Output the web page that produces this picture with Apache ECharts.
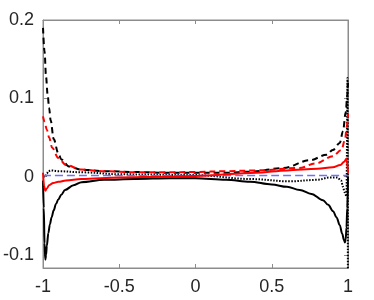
<!DOCTYPE html>
<html><head><meta charset="utf-8">
<script src="https://cdn.jsdelivr.net/npm/echarts@6/dist/echarts.min.js"></script>
<style>html,body{margin:0;padding:0;background:#fff}#c{width:374px;height:300px}</style>
</head><body><div id="c"></div>
<script>
// tick labels
const xTicks = [-1, -0.5, 0, 0.5, 1];
const yTicks = [-0.1, 0, 0.1, 0.2];

// black solid
const bsX = [-1, -0.995, -0.99, -0.985, -0.98, -0.975, -0.965, -0.955, -0.944, -0.93, -0.915, -0.9, -0.88, -0.856, -0.8, -0.747, -0.6, -0.4, -0.167, 0, 0.2, 0.357, 0.5, 0.6, 0.684, 0.76, 0.836, 0.87, 0.902, 0.925, 0.946, 0.962, 0.974, 0.98, 0.985, 0.99, 0.995, 1];
const bsY = [-0.005, -0.04, -0.085, -0.106, -0.1, -0.088, -0.072, -0.061, -0.052, -0.043, -0.035, -0.029, -0.023, -0.017, -0.011, -0.007, -0.004, -0.003, -0.002, -0.002, -0.004, -0.0064, -0.01, -0.013, -0.017, -0.022, -0.03, -0.036, -0.044, -0.052, -0.062, -0.073, -0.081, -0.084, -0.08, -0.065, -0.04, 0];

// black dashed
const bdX = [-1, -0.99, -0.98, -0.97, -0.96, -0.95, -0.93, -0.9, -0.88, -0.83, -0.75, -0.6, -0.4, -0.2, 0, 0.2, 0.36, 0.575, 0.75, 0.86, 0.9, 0.946, 0.967, 0.985, 0.995, 1];
const bdY = [0.19, 0.16, 0.127, 0.105, 0.088, 0.072, 0.048, 0.03, 0.022, 0.013, 0.009, 0.007, 0.006, 0.005, 0.005, 0.005, 0.0064, 0.011, 0.021, 0.028, 0.034, 0.043, 0.058, 0.082, 0.103, 0.12];

// black dotted
const dtX = [-1, -0.985, -0.975, -0.965, -0.947, -0.9, -0.735, -0.5, 0, 0.357, 0.62, 0.8, 0.88, 0.93, 0.955, 0.967, 0.978, 0.99, 0.997, 1];
const dtY = [0, 0, 0.004, 0.007, 0.008, 0.007, 0.0055, 0.003, 0.002, -0.003, -0.006, -0.004, -0.001, -0.001, -0.005, -0.013, -0.02, -0.025, 0.126, -0.25];

// blue dashed
const blX = [-1, 1];
const blY = [0.0015, 0.0015];

// red solid
const rsX = [-1, -0.993, -0.985, -0.975, -0.96, -0.933, -0.9, -0.85, -0.75, -0.5, -0.2, 0, 0.4, 0.6, 0.8, 0.9, 0.95, 0.975, 0.99, 1];
const rsY = [0.005, -0.012, -0.018, -0.015, -0.011, -0.008, -0.0065, -0.005, -0.003, -0.001, 0, 0.001, 0.005, 0.008, 0.01, 0.012, 0.015, 0.019, 0.023, 0.005];

// red dashed
const rdX = [-1, -0.99, -0.975, -0.96, -0.94, -0.9, -0.85, -0.75, -0.6, -0.4, -0.2, 0, 0.2, 0.4, 0.68, 0.79, 0.9, 0.957, 0.98, 0.993, 1];
const rdY = [0.077, 0.07, 0.06, 0.05, 0.037, 0.024, 0.015, 0.009, 0.007, 0.0055, 0.0055, 0.006, 0.007, 0.008, 0.011, 0.017, 0.026, 0.034, 0.047, 0.065, 0.08];

function pairs(xs, ys) { return xs.map((x, i) => [x, ys[i]]); }

const axisColor = '#8c8c8c';
const labelStyle = { color: '#262626', fontSize: 18, fontFamily: 'Liberation Sans, Arial, sans-serif' };

const chart = echarts.init(document.getElementById('c'), null, { renderer: 'canvas' });
function mk(name, xs, ys, color, type, width) {
  return { name, type: 'line', data: pairs(xs, ys), symbol: 'none', showSymbol: false, clip: true,
    smooth: 0.35, smoothMonotone: 'x',
    lineStyle: { color, type, width }, z: 2, animation: false };
}
const lineSpec = { show: true, onZero: false, lineStyle: { color: axisColor } };
const tickSpec = { show: true, inside: true, length: 4, lineStyle: { color: axisColor } };
chart.setOption({
  animation: false,
  grid: { left: 43, right: 26, top: 20, bottom: 32, show: true, borderColor: axisColor, borderWidth: 1 },
  xAxis: [
    { type: 'value', min: -1, max: 1, interval: 0.5, position: 'bottom',
      axisLine: lineSpec, axisTick: tickSpec,
      axisLabel: { ...labelStyle, margin: 10, customValues: xTicks, formatter: v => String(v) },
      splitLine: { show: false } },
    { type: 'value', min: -1, max: 1, interval: 0.5, position: 'top',
      axisLine: lineSpec, axisTick: tickSpec,
      axisLabel: { show: false }, splitLine: { show: false } }
  ],
  yAxis: [
    { type: 'value', min: -0.1166, max: 0.2, position: 'left',
      axisLine: lineSpec,
      axisTick: { ...tickSpec, customValues: yTicks },
      axisLabel: { ...labelStyle, margin: 9, customValues: yTicks, formatter: v => String(v) },
      splitLine: { show: false } },
    { type: 'value', min: -0.1166, max: 0.2, position: 'right',
      axisLine: lineSpec,
      axisTick: { ...tickSpec, customValues: yTicks },
      axisLabel: { show: false }, splitLine: { show: false } }
  ],
  series: [
    mk('bs', bsX, bsY, '#000000', 'solid', 2),
    mk('bd', bdX, bdY, '#000000', [6, 4], 2),
    mk('dt', dtX, dtY, '#000000', [1.5, 1.5], 2),
    mk('bl', blX, blY, '#7070ff', [8, 4], 1.5),
    mk('rs', rsX, rsY, '#ff0000', 'solid', 2),
    mk('rd', rdX, rdY, '#ff0000', [6, 4], 2)
  ]
});
</script></body></html>
